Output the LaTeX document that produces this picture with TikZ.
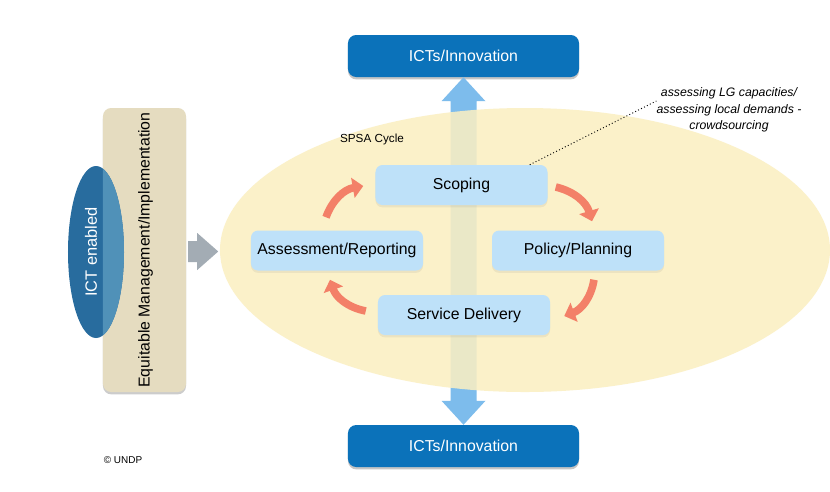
\documentclass[tikz,border=0pt]{standalone}
\usepackage{fontspec}
\setmainfont{Liberation Sans}
\usetikzlibrary{positioning,calc,shadows,shapes.geometric,arrows.meta}
\definecolor{ictblue}{RGB}{11,114,186}
\definecolor{stepblue}{RGB}{190,225,249}
\definecolor{cycleyellow}{RGB}{251,239,194}
\definecolor{shaftblue}{RGB}{125,188,236}
\definecolor{cyclearrow}{RGB}{243,128,104}
\definecolor{mgmttan}{RGB}{229,220,192}
\definecolor{ictdark}{RGB}{40,108,158}
\definecolor{ictlight}{RGB}{80,145,184}
\definecolor{pushgray}{RGB}{163,172,180}

\begin{document}
\begin{tikzpicture}[x=0.03cm,y=-0.03cm,
    ictbox/.style={fill=ictblue, text=white, rounded corners=7pt,
        minimum width=6.93cm, minimum height=1.26cm,
        font=\fontsize{13.5}{15}\selectfont,
        drop shadow={opacity=0.45, shadow xshift=0pt, shadow yshift=-2pt}},
    stepbox/.style={fill=stepblue, rounded corners=6pt,
        minimum width=5.16cm, minimum height=1.2cm,
        font=\fontsize{13.5}{15}\selectfont,
        drop shadow={opacity=0.12, shadow xshift=0pt, shadow yshift=-2pt}},
    cyclearr/.style={draw=cyclearrow, line width=6.5pt,
        -{Triangle[length=9pt, width=17pt]}}
    ]
    \useasboundingbox[fill=white] (0,0) rectangle (830,491);

    \node[ictbox] (top) at (463.5,56) {ICTs/Innovation};
    \node[ictbox] (bot) at (463.5,446) {ICTs/Innovation};

    % vertical double arrow
    \fill[shaftblue] (top.south) -- ($(top.south)+(22,24)$) -- ($(top.south)+(13,24)$)
        -- ($(bot.north)+(13,-24)$) -- ($(bot.north)+(22,-24)$) -- (bot.north)
        -- ($(bot.north)+(-22,-24)$) -- ($(bot.north)+(-13,-24)$)
        -- ($(top.south)+(-13,24)$) -- ($(top.south)+(-22,24)$) -- cycle;

    \node[ellipse, fill=cycleyellow, fill opacity=0.87, inner sep=0pt,
        minimum width=18.3cm, minimum height=8.52cm] (cycle) at (525,250) {};
    \node[font=\fontsize{10}{12}\selectfont] (spsa) at (372,139) {SPSA Cycle};

    \node[stepbox] (scope) at (461.5,185) {Scoping};
    \node[stepbox] (assess) at (337,250.5) {Assessment/Reporting};
    \node[stepbox] (policy) at (578,250.5) {Policy/Planning};
    \node[stepbox] (service) at (464,315) {Service Delivery};

    \draw[cyclearr] ($(assess.north)+(-11,-13)$) to[bend left=30] ($(scope.west)+(-12,1)$);
    \draw[cyclearr] ($(scope.east)+(8,2)$) to[bend left=30] ($(policy.north)+(14,-9)$);
    \draw[cyclearr] ($(policy.south)+(16,9)$) to[bend left=30] ($(service.east)+(14,1)$);
    \draw[cyclearr] ($(service.west)+(-12,-4)$) to[bend left=30] ($(assess.south)+(-7,9)$);

    \node[align=center, font=\fontsize{10.5}{14}\itshape] (note) at (729,110)
        {assessing LG capacities/\\assessing local demands -\\crowdsourcing};
    \draw[line width=0.8pt, dash pattern=on 0.8pt off 2pt]
        ($(scope.north east)+(-18,0)$) -- ($(note.west)+(4,-9)$);

    % left block
    \node[fill=mgmttan, rounded corners=7pt, minimum width=2.49cm, minimum height=8.52cm,
        drop shadow={opacity=0.4, shadow xshift=0pt, shadow yshift=-2pt}] (mgmt) at (144.5,250) {};
    \node[ellipse, fill=ictdark, inner sep=0pt, minimum width=1.68cm,
        minimum height=5.16cm] (ict) at (96,252) {};
    \begin{scope}
        \clip (mgmt.south west) rectangle (mgmt.north east);
        \fill[ictlight] (ict.center) ellipse [x radius=0.84cm, y radius=2.58cm];
    \end{scope}
    \node[rotate=90, text=white, font=\fontsize{14}{16}\selectfont] (ictlabel)
        at ($(ict.center)+(-5,0)$) {ICT enabled};
    \node[rotate=90, font=\fontsize{13.5}{15}\selectfont] (mgmtlabel)
        at ($(mgmt.center)+(1,0)$) {Equitable Management/Implementation};

    % push arrow into the cycle
    \fill[pushgray] ($(mgmt.east)+(2,-9)$) -- ($(mgmt.east)+(11,-9)$) -- ($(mgmt.east)+(11,-17)$)
        -- ($(mgmt.east)+(32,1.5)$) -- ($(mgmt.east)+(11,20)$) -- ($(mgmt.east)+(11,12)$)
        -- ($(mgmt.east)+(2,12)$) -- cycle;

    \node[font=\fontsize{8.5}{10}\selectfont] (undp) at (123,460) {\textcopyright\ UNDP};
\end{tikzpicture}
\end{document}
